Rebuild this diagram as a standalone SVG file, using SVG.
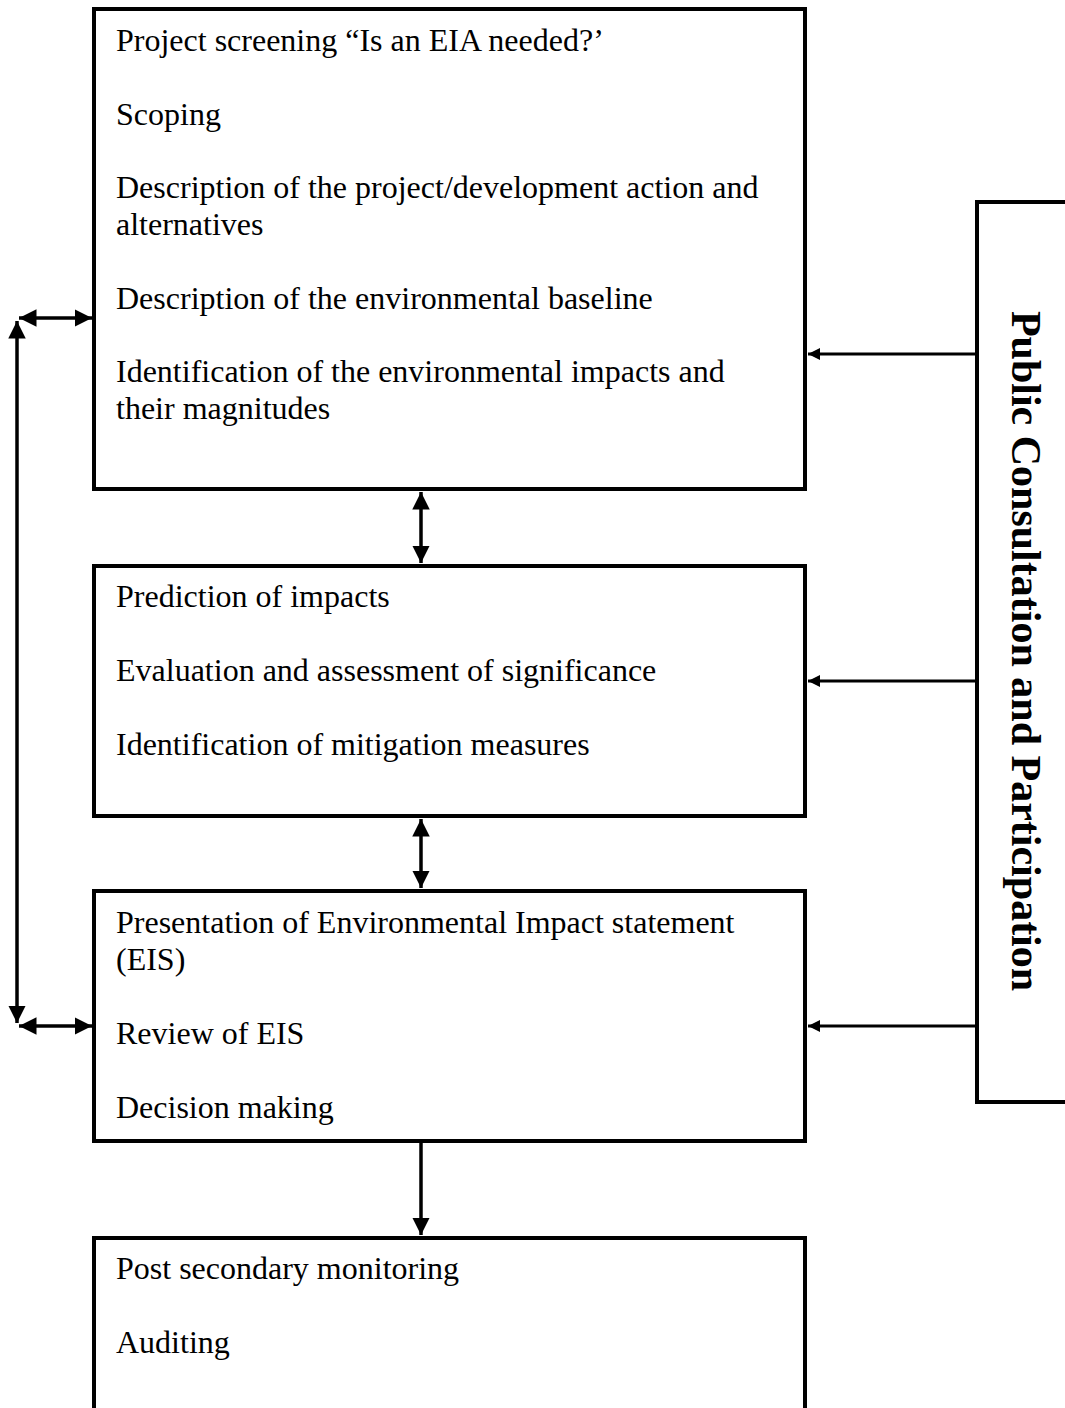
<svg xmlns="http://www.w3.org/2000/svg" width="1065" height="1408" viewBox="0 0 1065 1408">
<style>
.box{fill:#fff;stroke:#000;stroke-width:4}
.t{font-family:"Liberation Serif","Times New Roman",serif;font-size:32px;fill:#000}
.c{stroke:#000;stroke-width:3.5;fill:none}
.s{stroke:#000;stroke-width:3;fill:none}
.title{font-family:"Liberation Serif","Times New Roman",serif;font-size:42px;font-weight:bold;fill:#000}
</style>
<defs>
<marker id="ah" viewBox="0 0 10 10" refX="10" refY="5" markerWidth="5" markerHeight="5" orient="auto-start-reverse" markerUnits="strokeWidth">
<path d="M0,0 L10,5 L0,10 z" fill="#000"/>
</marker>
<marker id="ahs" viewBox="0 0 10 10" refX="10" refY="5" markerWidth="4.5" markerHeight="4" orient="auto" markerUnits="strokeWidth">
<path d="M0,0 L10,5 L0,10 z" fill="#000"/>
</marker>
</defs>
<rect width="1065" height="1408" fill="#fff"/>
<g id="node-1">
<rect class="box" x="94" y="9" width="711" height="480"/>
<text class="t" x="116" y="51">Project screening “Is an EIA needed?’</text>
<text class="t" x="116" y="125">Scoping</text>
<text class="t" x="116" y="198">Description of the project/development action and</text>
<text class="t" x="116" y="235">alternatives</text>
<text class="t" x="116" y="309">Description of the environmental baseline</text>
<text class="t" x="116" y="382">Identification of the environmental impacts and</text>
<text class="t" x="116" y="419">their magnitudes</text>
</g>
<g id="node-2">
<rect class="box" x="94" y="566" width="711" height="250"/>
<text class="t" x="116" y="607">Prediction of impacts</text>
<text class="t" x="116" y="681">Evaluation and assessment of significance</text>
<text class="t" x="116" y="755">Identification of mitigation measures</text>
</g>
<g id="node-3">
<rect class="box" x="94" y="891" width="711" height="250"/>
<text class="t" x="116" y="933">Presentation of Environmental Impact statement</text>
<text class="t" x="116" y="970">(EIS)</text>
<text class="t" x="116" y="1044">Review of EIS</text>
<text class="t" x="116" y="1118">Decision making</text>
</g>
<g id="node-4">
<rect class="box" x="94" y="1238" width="711" height="200"/>
<text class="t" x="116" y="1279">Post secondary monitoring</text>
<text class="t" x="116" y="1353">Auditing</text>
</g>
<g id="node-public">
<path class="box" d="M1070,202 L977,202 L977,1102 L1070,1102"/>
<text class="title" transform="translate(1012,651) rotate(90)" text-anchor="middle">Public Consultation and Participation</text>
</g>
<g id="connectors">
<line class="c" x1="421" y1="492" x2="421" y2="563" marker-start="url(#ah)" marker-end="url(#ah)"/>
<line class="c" x1="421" y1="819" x2="421" y2="888" marker-start="url(#ah)" marker-end="url(#ah)"/>
<line class="c" x1="421" y1="1143" x2="421" y2="1235" marker-end="url(#ah)"/>
<line class="c" x1="19" y1="318" x2="92" y2="318" marker-start="url(#ah)" marker-end="url(#ah)"/>
<line class="c" x1="19" y1="1026" x2="92" y2="1026" marker-start="url(#ah)" marker-end="url(#ah)"/>
<line class="c" x1="17" y1="321" x2="17" y2="1023" marker-start="url(#ah)" marker-end="url(#ah)"/>
<line class="s" x1="977" y1="354" x2="808" y2="354" marker-end="url(#ahs)"/>
<line class="s" x1="977" y1="681" x2="808" y2="681" marker-end="url(#ahs)"/>
<line class="s" x1="977" y1="1026" x2="808" y2="1026" marker-end="url(#ahs)"/>
</g>
</svg>
